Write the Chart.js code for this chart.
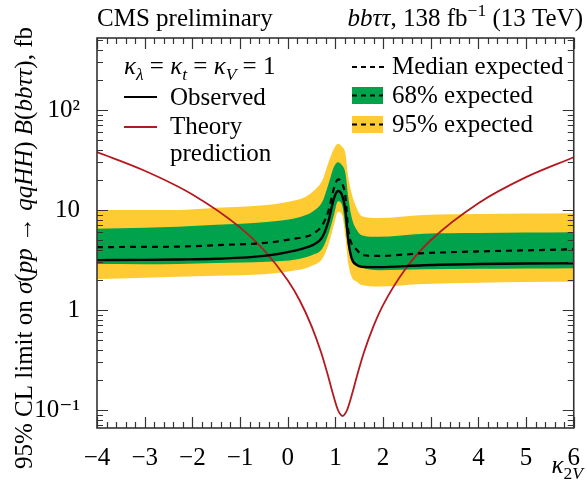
<!DOCTYPE html>
<html>
<head>
<meta charset="utf-8">
<script src="https://cdn.jsdelivr.net/npm/chart.js@4.4.1/dist/chart.umd.min.js"></script>
<style>
  html, body { margin: 0; padding: 0; background: #fff; }
  canvas { display: block; }
</style>
</head>
<body>
<canvas id="limits" width="587" height="486"></canvas>
<script>
// kappa_2V scan points and limits (fb)
const k2v        = [-4, -3, -2.3, -1.5, -0.44, 0.18, 0.38, 0.52, 0.73, 0.86, 0.97, 1.055, 1.14, 1.21, 1.27, 1.34, 1.45, 1.55, 1.9, 2.85, 4, 5, 6];
const observed   = [3.15, 3.17, 3.2, 3.25, 3.5, 3.95, 4.2, 4.45, 5.4, 7.9, 13.1, 15.5, 14.1, 10.0, 5.0, 3.3, 2.82, 2.71, 2.68, 2.8, 2.88, 2.92, 2.93];
const expected   = [4.25, 4.28, 4.3, 4.45, 4.7, 5.2, 5.4, 5.75, 7.1, 10.0, 16.5, 20.2, 18.5, 13.6, 6.3, 4.6, 4.0, 3.55, 3.47, 3.7, 3.85, 3.95, 4.05];
const exp68Up    = [6.5, 6.65, 6.8, 7.1, 7.6, 8.3, 8.9, 9.6, 12.2, 18.5, 27, 30, 28, 23.4, 13.6, 8.5, 6.3, 5.6, 5.4, 5.8, 5.9, 5.95, 6.0];
const exp68Down  = [2.88, 2.87, 2.88, 2.95, 3.04, 3.2, 3.37, 3.55, 4.14, 5.85, 8.9, 12.2, 11.2, 6.8, 4.3, 3.28, 2.88, 2.67, 2.5, 2.55, 2.58, 2.6, 2.62];
const exp95Up    = [10, 10, 10, 10.5, 11.2, 12.6, 13.6, 15.2, 20, 30.4, 41, 46, 43, 37, 21.5, 14.7, 10.4, 8.7, 8.3, 8.9, 9.1, 9.2, 9.3];
const exp95Down  = [2.04, 2.1, 2.15, 2.2, 2.29, 2.5, 2.62, 2.78, 3.28, 4.6, 7.1, 9.6, 8.9, 5.4, 2.93, 2.15, 1.92, 1.78, 1.72, 1.82, 1.87, 1.9, 1.91];

const theoryK2v  = [-4, -3, -2, -1, -0.5, 0, 0.25, 0.5, 0.7, 0.85, 0.95, 1.05, 1.1, 1.15, 1.2, 1.25, 1.35, 1.45, 1.6, 1.8, 2, 2.5, 3, 4, 5, 6];
const theory     = [38.0, 24.7, 14.3, 6.7, 3.98, 1.98, 1.25, 0.69, 0.377, 0.216, 0.144, 0.101, 0.091, 0.087, 0.091, 0.101, 0.144, 0.216, 0.377, 0.69, 1.12, 2.69, 4.98, 11.7, 21.3, 33.7];

const xTicks      = [-4, -3, -2, -1, 0, 1, 2, 3, 4, 5, 6];
const xTickLabels = ['\u22124', '\u22123', '\u22122', '\u22121', '0', '1', '2', '3', '4', '5', '6'];
const yTicks      = [0.1, 1, 10, 100];
const yTickLabels = ['10\u207B\u00B9', '1', '10', '10\u00B2'];

const SERIF = "'Liberation Serif', 'DejaVu Serif', serif";
const GREEN = 'rgb(0, 163, 76)';
const YELLOW = 'rgb(255, 203, 50)';
const RED = 'rgb(181, 24, 30)';
const FS = 25;

function pts(xs, ys) {
    return xs.map((x, i) => ({ x: x, y: ys[i] }));
}

function setFont(ctx, size, italic) {
    ctx.font = (italic ? 'italic ' : '') + size + 'px ' + SERIF;
}

// text made of pieces: {t, i: italic, sub, sup}
function richWidth(ctx, parts, size) {
    let w = 0;
    for (const p of parts) {
        setFont(ctx, (p.sub || p.sup) ? size * 0.7 : size, p.i);
        w += ctx.measureText(p.t).width;
    }
    return w;
}

function drawRich(ctx, parts, x, y, size, align) {
    const w = richWidth(ctx, parts, size);
    let cx = align === 'right' ? x - w : align === 'center' ? x - w / 2 : x;
    ctx.textAlign = 'left';
    ctx.textBaseline = 'alphabetic';
    for (const p of parts) {
        const s = (p.sub || p.sup) ? size * 0.7 : size;
        setFont(ctx, s, p.i);
        const dy = p.sub ? size * 0.22 : p.sup ? -size * 0.4 : 0;
        ctx.fillText(p.t, cx, y + dy);
        cx += ctx.measureText(p.t).width;
    }
}

const frameTicks = {
    id: 'frameTicks',
    afterDatasetsDraw(chart) {
        const { ctx, chartArea: a, scales: { x, y } } = chart;
        ctx.save();
        ctx.strokeStyle = '#333';
        ctx.lineWidth = 1.2;
        ctx.beginPath();
        for (let n = 0; n <= 50; n++) {
            const v = -4 + n * 0.2;
            const px = Math.round(x.getPixelForValue(v)) + 0.5;
            const len = n % 5 === 0 ? 11 : 6;
            ctx.moveTo(px, a.bottom); ctx.lineTo(px, a.bottom - len);
            ctx.moveTo(px, a.top); ctx.lineTo(px, a.top + len);
        }
        for (let d = -2; d <= 2; d++) {
            for (let m = 1; m < 10; m++) {
                const v = m * Math.pow(10, d);
                if (v < y.min || v > y.max) continue;
                const py = Math.round(y.getPixelForValue(v)) + 0.5;
                const len = m === 1 ? 11 : 6;
                ctx.moveTo(a.left, py); ctx.lineTo(a.left + len, py);
                ctx.moveTo(a.right, py); ctx.lineTo(a.right - len, py);
            }
        }
        ctx.stroke();
        ctx.lineWidth = 1.6;
        ctx.strokeRect(a.left, a.top, a.right - a.left, a.bottom - a.top);
        ctx.restore();
    }
};

const labelsAndLegend = {
    id: 'labelsAndLegend',
    afterDraw(chart) {
        const ctx = chart.ctx;
        ctx.save();
        ctx.fillStyle = '#000';

        // header
        drawRich(ctx, [{ t: 'CMS preliminary' }], 97, 26, FS, 'left');
        drawRich(ctx, [{ t: 'bb\u03C4\u03C4', i: 1 }, { t: ', 138 fb' }, { t: '\u22121', sup: 1 }, { t: ' (13 TeV)' }], 583, 26, FS, 'right');

        // axis titles
        drawRich(ctx, [{ t: '\u03BA', i: 1 }, { t: '2', sub: 1 }, { t: 'V', i: 1, sub: 1 }], 583, 473, FS, 'right');
        ctx.save();
        ctx.translate(32, 248);
        ctx.rotate(-Math.PI / 2);
        drawRich(ctx, [{ t: '95% CL limit on ' }, { t: '\u03C3', i: 1 }, { t: '(' }, { t: 'pp', i: 1 }, { t: ' \u2192 ' },
            { t: 'qqHH', i: 1 }, { t: ') ' }, { t: 'B', i: 1 }, { t: '(' }, { t: 'bb\u03C4\u03C4', i: 1 }, { t: '), fb' }], 0, 0, FS, 'center');
        ctx.restore();

        // legend, left column
        drawRich(ctx, [{ t: '\u03BA', i: 1 }, { t: '\u03BB', i: 1, sub: 1 }, { t: ' = ' }, { t: '\u03BA', i: 1 }, { t: 't', i: 1, sub: 1 },
            { t: ' = ' }, { t: '\u03BA', i: 1 }, { t: 'V', i: 1, sub: 1 }, { t: ' = 1' }], 124, 74, FS, 'left');
        ctx.lineWidth = 2.2;
        ctx.strokeStyle = '#000';
        ctx.beginPath(); ctx.moveTo(124, 97); ctx.lineTo(157, 97); ctx.stroke();
        drawRich(ctx, [{ t: 'Observed' }], 170, 105, FS, 'left');
        ctx.strokeStyle = RED;
        ctx.lineWidth = 1.8;
        ctx.beginPath(); ctx.moveTo(124, 127); ctx.lineTo(157, 127); ctx.stroke();
        drawRich(ctx, [{ t: 'Theory' }], 170, 134, FS, 'left');
        drawRich(ctx, [{ t: 'prediction' }], 170, 161, FS, 'left');

        // legend, right column
        ctx.strokeStyle = '#000';
        ctx.lineWidth = 2;
        ctx.setLineDash([5, 4]);
        ctx.beginPath(); ctx.moveTo(352, 67); ctx.lineTo(384, 67); ctx.stroke();
        ctx.setLineDash([]);
        drawRich(ctx, [{ t: 'Median expected' }], 392, 74, FS, 'left');
        ctx.fillStyle = GREEN;
        ctx.fillRect(352, 87, 31, 17);
        ctx.fillStyle = YELLOW;
        ctx.fillRect(352, 116, 31, 17);
        ctx.setLineDash([5, 4]);
        ctx.beginPath(); ctx.moveTo(352, 95.5); ctx.lineTo(383, 95.5); ctx.stroke();
        ctx.beginPath(); ctx.moveTo(352, 124.5); ctx.lineTo(383, 124.5); ctx.stroke();
        ctx.setLineDash([]);
        ctx.fillStyle = '#000';
        drawRich(ctx, [{ t: '68% expected' }], 392, 103, FS, 'left');
        drawRich(ctx, [{ t: '95% expected' }], 392, 132, FS, 'left');
        ctx.restore();
    }
};

const line = { pointRadius: 0, fill: false, cubicInterpolationMode: 'monotone' };

new Chart(document.getElementById('limits').getContext('2d'), {
    type: 'line',
    data: {
        datasets: [
            { ...line, label: 'Observed', data: pts(k2v, observed), borderColor: '#000', borderWidth: 2.4 },
            { ...line, label: 'Median expected', data: pts(k2v, expected), borderColor: '#000', borderWidth: 2.2, borderDash: [6, 5] },
            { ...line, label: 'Theory prediction', data: pts(theoryK2v, theory), borderColor: RED, borderWidth: 1.8 },
            { ...line, label: '68% up', data: pts(k2v, exp68Up), borderWidth: 0, backgroundColor: GREEN, fill: '+1' },
            { ...line, label: '68% down', data: pts(k2v, exp68Down), borderWidth: 0 },
            { ...line, label: '95% up', data: pts(k2v, exp95Up), borderWidth: 0, backgroundColor: YELLOW, fill: '+1' },
            { ...line, label: '95% down', data: pts(k2v, exp95Down), borderWidth: 0 }
        ]
    },
    options: {
        responsive: false,
        animation: false,
        events: [],
        devicePixelRatio: 1,
        layout: { padding: { left: 0, right: 4, top: 38, bottom: 0 } },
        plugins: { legend: { display: false }, tooltip: { enabled: false } },
        scales: {
            x: {
                type: 'linear', min: -4, max: 6,
                grid: { display: false }, border: { display: false },
                afterBuildTicks: s => { s.ticks = xTicks.map(v => ({ value: v })); },
                afterFit: s => { s.height = 58; },
                ticks: {
                    autoSkip: false, maxRotation: 0, padding: 7, color: '#000',
                    font: { family: SERIF, size: FS },
                    callback: (v, i) => xTickLabels[i]
                }
            },
            y: {
                type: 'logarithmic', min: 0.066, max: 525,
                grid: { display: false }, border: { display: false },
                afterBuildTicks: s => { s.ticks = yTicks.map(v => ({ value: v })); },
                afterFit: s => { s.width = 97; },
                ticks: {
                    autoSkip: false, padding: 9, color: '#000',
                    font: { family: SERIF, size: FS },
                    callback: (v, i) => yTickLabels[i]
                }
            }
        }
    },
    plugins: [frameTicks, labelsAndLegend]
});
</script>
</body>
</html>
